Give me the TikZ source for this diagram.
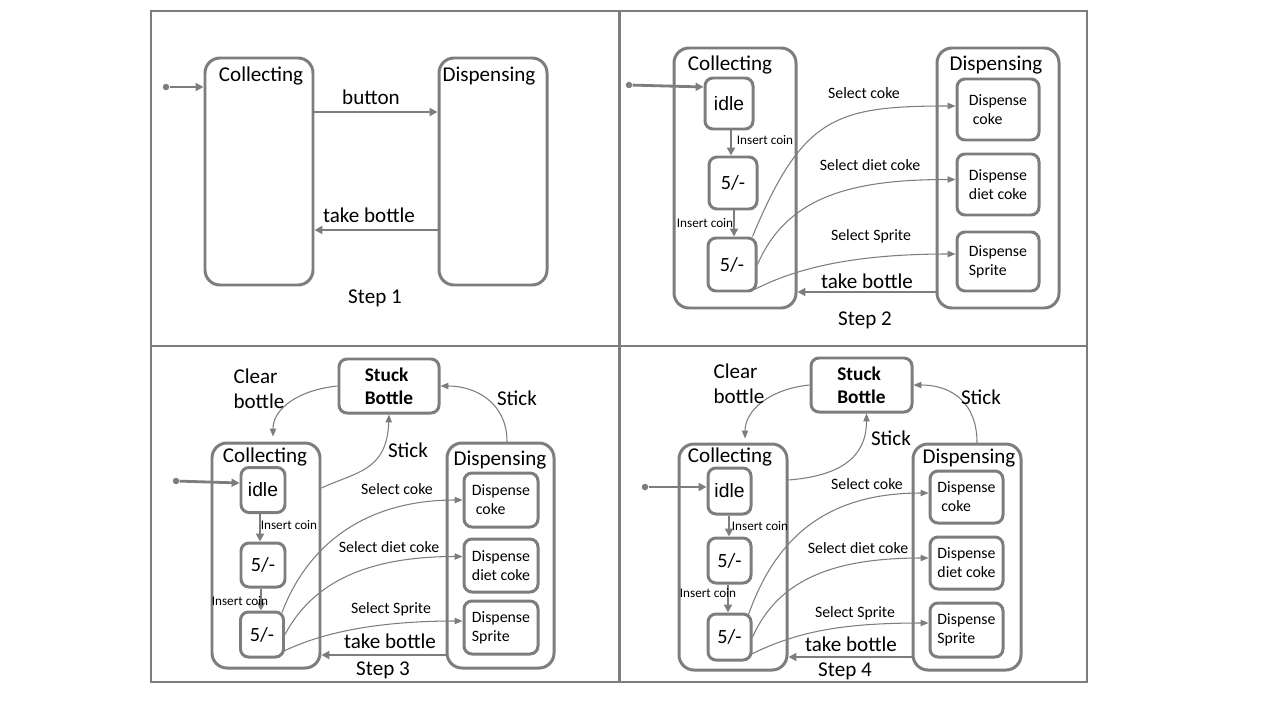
\documentclass[tikz,border=0pt]{standalone}
\usepackage{fontspec}
\setmainfont{Carlito}
\newfontfamily\idlefont{Liberation Sans}
\usetikzlibrary{arrows.meta}
\definecolor{linegray}{RGB}{125,125,125}
\tikzset{
  x=0.02cm, y=-0.02cm,
  wh/.style 2 args={minimum width=#1*0.02cm, minimum height=#2*0.02cm},
  frame/.style={draw=linegray, line width=1.4pt},
  outer/.style={draw=linegray, line width=1.7pt, rounded corners=0.3cm, inner sep=0pt},
  inner/.style={draw=linegray, line width=1.7pt, rounded corners=0.16cm, inner sep=0pt, align=left, font=\fontsize{9}{10.8}\selectfont},
  idlebox/.style={inner, font=\idlefont\fontsize{11}{13}\selectfont},
  coinbox/.style={inner, font=\fontsize{11.5}{13}\selectfont},
  stuckbox/.style={inner, font=\bfseries\fontsize{11}{13}\selectfont},
  flow/.style={draw=linegray, line width=1.6pt, -{Triangle[length=4.5pt,width=4.5pt]}},
  curve/.style={draw=linegray, line width=0.6pt, -{Triangle[length=4.5pt,width=3.6pt]}},
  initdot/.style={circle, fill=linegray, inner sep=0pt, minimum size=0.13cm},
  biglbl/.style={font=\fontsize{12}{14}\selectfont, align=left},
  sellbl/.style={font=\fontsize{9}{11}\selectfont},
  coinlbl/.style={font=\fontsize{7.5}{9}\selectfont},
}
\begin{document}
\begin{tikzpicture}
\useasboundingbox (0,0) rectangle (1280,720);
\fill[white] (0,0) rectangle (1280,720);
\draw[frame] (151,11) rectangle (1087,682);
\draw[frame] (619.5,11) -- (619.5,682);
\draw[frame] (151,346) -- (1087,346);

% step 1
\node[outer, wh={108}{227}] (coll1) at (259,171.5) {};
\node[outer, wh={108}{227}] (disp1) at (493,171.5) {};
\node[biglbl] (colllbl1) at (261,76) {Collecting};
\node[biglbl] (displbl1) at (489,76) {Dispensing};
\node[initdot] (init1) at (166,87) {};
\draw[flow] (init1) -- (coll1.west |- init1);
\draw[flow] (coll1.east |- 0,112) -- (disp1.west |- 0,112);
\node[biglbl] (button1) at (371,97) {button};
\draw[flow] (disp1.west |- 0,230) -- (coll1.east |- 0,230);
\node[biglbl] (take1) at (369,215) {take bottle};
\node[biglbl] (step1) at (375,298) {Step 1};

% step 2
\node[outer, wh={122}{260}] (coll2) at (735,178) {};
\node[outer, wh={122}{260}] (disp2) at (998,178) {};
\node[biglbl] (colllbl2) at (730,65) {Collecting};
\node[biglbl] (displbl2) at (996,65) {Dispensing};
\node[idlebox, wh={48}{51}] (idle2) at (729,103.5) {idle};
\node[coinbox, wh={48}{52}] (fiveA2) at (733,183) {5/-};
\node[coinbox, wh={48}{53}] (fiveB2) at (732,264.5) {5/-};
\node[inner, wh={82}{61}] (dcoke2) at (998,109.5) {Dispense\\\hspace*{0.25em}coke};
\node[inner, wh={82}{61}] (ddiet2) at (998,184.5) {Dispense\\diet coke};
\node[inner, wh={82}{59}] (dsprite2) at (998,261.5) {Dispense\\Sprite};
\node[initdot] (init2) at (629,85) {};
\draw[flow] (init2) -- (idle2.west |- 0,87);
\draw[flow] (idle2.south -| 731,0) -- (fiveA2.north -| 731,0);
\node[coinlbl] (coinA2) at (765,140) {Insert coin};
\draw[flow] (fiveA2.south -| 734,0) -- (fiveB2.north -| 734,0);
\node[coinlbl] (coinB2) at (705,223) {Insert coin};
\draw[curve] ([xshift=-0.1cm]fiveB2.north east) .. controls +(50,-120) and +(-120,0) .. ([yshift=0.07cm]dcoke2.west);
\node[sellbl] (selcoke2) at (864,93) {Select coke};
\draw[curve] (fiveB2.east) .. controls +(30,-70) and +(-100,0) .. ([yshift=0.1cm]ddiet2.west);
\node[sellbl] (seldiet2) at (870,165) {Select diet coke};
\draw[curve] ([xshift=-0.06cm,yshift=0.06cm]fiveB2.south east) .. controls +(45,-23) and +(-97,0) .. ([yshift=0.15cm]dsprite2.west);
\node[sellbl] (selsprite2) at (871,236) {Select Sprite};
\draw[flow] (disp2.west |- 0,292) -- (coll2.east |- 0,292);
\node[biglbl] (take2) at (867,281) {take bottle};
\node[biglbl] (step2) at (865,320) {Step 2};

% step 3
\node[stuckbox, wh={100}{54}] (stuck3) at (389,386) {Stuck\\Bottle};
\node[outer, wh={108}{225}] (coll3) at (266,555.5) {};
\node[outer, wh={107}{225}] (disp3) at (500.5,555.5) {};
\node[biglbl] (colllbl3) at (265,457) {Collecting};
\node[biglbl] (displbl3) at (500,460) {Dispensing};
\node[idlebox, wh={44}{45}] (idle3) at (263,490) {idle};
\node[coinbox, wh={44}{44}] (fiveA3) at (263,565) {5/-};
\node[coinbox, wh={43}{45}] (fiveB3) at (262,634.5) {5/-};
\node[inner, wh={74}{54}] (dcoke3) at (501,500) {Dispense\\\hspace*{0.25em}coke};
\node[inner, wh={74}{53}] (ddiet3) at (501,565.5) {Dispense\\diet coke};
\node[inner, wh={74}{53}] (dsprite3) at (501,627.5) {Dispense\\Sprite};
\node[initdot] (init3) at (176,481) {};
\draw[flow] (init3) -- (idle3.west |- 0,483);
\draw[flow] (idle3.south -| 260,0) -- (fiveA3.north -| 260,0);
\node[coinlbl] (coinA3) at (289,525) {Insert coin};
\draw[flow] (fiveA3.south -| 261,0) -- (fiveB3.north -| 261,0);
\node[coinlbl] (coinB3) at (240,601) {Insert coin};
\draw[curve] ([xshift=-0.06cm,yshift=-0.04cm]fiveB3.north east) .. controls +(27,-71) and +(-94,0) .. (dcoke3.west);
\node[sellbl] (selcoke3) at (397,489) {Select coke};
\draw[curve] (fiveB3.east) .. controls +(28,-53) and +(-94,0) .. ([yshift=0.18cm]ddiet3.west);
\node[sellbl] (seldiet3) at (389,547) {Select diet coke};
\draw[curve] ([xshift=-0.04cm,yshift=0.14cm]fiveB3.south east) .. controls +(45,-22) and +(-74,0) .. ([yshift=0.13cm]dsprite3.west);
\node[sellbl] (selsprite3) at (391,609) {Select Sprite};
\draw[flow] (disp3.west |- 0,655) -- (coll3.east |- 0,655);
\node[biglbl] (take3) at (390,641) {take bottle};
\draw[curve] (stuck3.west) .. controls +(-39,4) and +(0,-28) .. ([xshift=0.14cm,yshift=0.1cm]coll3.north);
\node[biglbl] (clear3) at (259,389) {Clear\\bottle};
\draw[curve] ([xshift=0.13cm]disp3.north) .. controls +(0,-38) and +(36,0) .. (stuck3.east);
\node[biglbl] (stickR3) at (517,398) {Stick};
\draw[curve] (coll3.east |- 0,488) .. controls +(34,-16) and +(-2,57) .. (stuck3.south);
\node[biglbl] (stickM3) at (408,450) {Stick};
\node[biglbl] (step3) at (383,670) {Step 3};

% step 4
\node[stuckbox, wh={101}{54}] (stuck4) at (861.5,385) {Stuck\\Bottle};
\node[outer, wh={108}{226}] (coll4) at (733,557) {};
\node[outer, wh={108}{226}] (disp4) at (967,557) {};
\node[biglbl] (colllbl4) at (730,457) {Collecting};
\node[biglbl] (displbl4) at (969,458) {Dispensing};
\node[idlebox, wh={43}{46}] (idle4) at (729.5,491) {idle};
\node[coinbox, wh={43}{45}] (fiveA4) at (729.5,560.5) {5/-};
\node[coinbox, wh={43}{46}] (fiveB4) at (729.5,637) {5/-};
\node[inner, wh={73}{52}] (dcoke4) at (966.5,497) {Dispense\\\hspace*{0.25em}coke};
\node[inner, wh={73}{52}] (ddiet4) at (966.5,563) {Dispense\\diet coke};
\node[inner, wh={73}{54}] (dsprite4) at (966.5,630) {Dispense\\Sprite};
\node[initdot] (init4) at (645,487) {};
\draw[flow] (init4) -- (idle4.west |- init4);
\draw[flow] (idle4.south -| 729,0) -- (fiveA4.north -| 729,0);
\node[coinlbl] (coinA4) at (760,526) {Insert coin};
\draw[flow] (fiveA4.south -| 728,0) -- (fiveB4.north -| 728,0);
\node[coinlbl] (coinB4) at (708,593) {Insert coin};
\draw[curve] ([xshift=-0.08cm,yshift=-0.04cm]fiveB4.north east) .. controls +(28,-79) and +(-100,0) .. ([yshift=0.08cm]dcoke4.west);
\node[sellbl] (selcoke4) at (867,484) {Select coke};
\draw[curve] (fiveB4.east) .. controls +(25,-55) and +(-100,0) .. ([yshift=0.1cm]ddiet4.west);
\node[sellbl] (seldiet4) at (858,548) {Select diet coke};
\draw[curve] ([xshift=-0.04cm,yshift=0.14cm]fiveB4.south east) .. controls +(45,-22) and +(-90,0) .. ([yshift=0.14cm]dsprite4.west);
\node[sellbl] (selsprite4) at (855,613) {Select Sprite};
\draw[flow] (disp4.west |- 0,657) -- (coll4.east |- 0,657);
\node[biglbl] (take4) at (851,644) {take bottle};
\draw[curve] (stuck4.west) .. controls +(-40,4) and +(0,-28) .. ([xshift=0.24cm,yshift=0.08cm]coll4.north);
\node[biglbl] (clear4) at (739,384) {Clear\\bottle};
\draw[curve] ([xshift=0.2cm]disp4.north) .. controls +(0,-38) and +(40,0) .. (stuck4.east);
\node[biglbl] (stickR4) at (981,397) {Stick};
\draw[curve] (coll4.east |- 0,480) .. controls +(50,-4) and +(0,45) .. ([xshift=0.1cm]stuck4.south);
\node[biglbl] (stickM4) at (891,438) {Stick};
\node[biglbl] (step4) at (845,671) {Step 4};

\end{tikzpicture}
\end{document}
